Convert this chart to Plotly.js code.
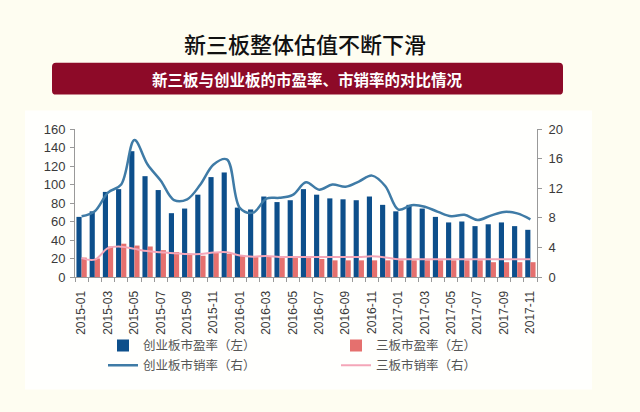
<!DOCTYPE html>
<html>
<head>
<meta charset="utf-8">
<script src="https://cdn.plot.ly/plotly-3.0.1.min.js"></script>
<style>
html,body{margin:0;padding:0;background:#fefdf1;}
#chart{width:640px;height:412px;}
</style>
</head>
<body>
<div id="chart"></div>
<script>
var months = ["2015-01","2015-02","2015-03","2015-04","2015-05","2015-06","2015-07","2015-08","2015-09","2015-10","2015-11","2015-12",
  "2016-01","2016-02","2016-03","2016-04","2016-05","2016-06","2016-07","2016-08","2016-09","2016-10","2016-11","2016-12",
  "2017-01","2017-02","2017-03","2017-04","2017-05","2017-06","2017-07","2017-08","2017-09","2017-10","2017-11"];
var tickLabels = ["2015-01","","2015-03","","2015-05","","2015-07","","2015-09","","2015-11","",
  "2016-01","","2016-03","","2016-05","","2016-07","","2016-09","","2016-11","",
  "2017-01","","2017-03","","2017-05","","2017-07","","2017-09","","2017-11"];
var cybPE = [65,71,92,95,136,109,94,69,74,89,108,113,75,73,87,81,83,95,89,85,84,83,87,78,71,78,74,65,59,60,55,57,59,55,51];
var sbPE = [21,20,33,36,34,33,29,27,25,23,26,25,23,21.5,22,20.5,20.5,20.5,19.5,18,18,18,18,18,18,18,18,18,18,18,18,16,16,16,16];
var cybPS = [8.2,8.9,11.4,12.5,18.5,15.2,13.0,10.4,10.5,12.5,15.2,15.9,9.3,8.7,10.6,10.7,11.1,12.8,11.8,12.5,12.2,12.9,13.7,12.3,9.1,9.7,9.5,8.8,8.2,8.4,7.7,8.3,8.8,8.6,7.8];
var sbPS = [2.55,2.35,3.9,4.1,3.8,3.5,3.35,3.2,3.1,3.1,3.3,3.35,2.9,2.75,2.85,2.7,2.7,2.7,2.7,2.7,2.7,2.7,2.8,2.65,2.4,2.4,2.4,2.4,2.4,2.4,2.4,2.4,2.4,2.4,2.4];

var names = ["创业板市盈率（左）","三板市盈率（左）","创业板市销率（右）","三板市销率（右）"];

// layout geometry (pixels)
var W = 640, H = 412, L = 75, R = 103, T = 128.5, B = 135;
var pw = W - L - R, ph = H - T - B;
function px(x){ return (x - L) / pw; }
function py(y){ return (H - B - y) / ph; }
function roundRect(x0, y0, x1, y1, r){
  var a = px(x0), b = px(x1), c = py(y0), d = py(y1);
  var rx = r / pw, ry = r / ph;
  return "M" + (a+rx) + "," + c + " L" + (b-rx) + "," + c + " Q" + b + "," + c + " " + b + "," + (c-ry) +
    " L" + b + "," + (d+ry) + " Q" + b + "," + d + " " + (b-rx) + "," + d +
    " L" + (a+rx) + "," + d + " Q" + a + "," + d + " " + a + "," + (d+ry) +
    " L" + a + "," + (c-ry) + " Q" + a + "," + c + " " + (a+rx) + "," + c + " Z";
}

var traces = [
  {type:"bar", x:months, y:cybPE, name:names[0], marker:{color:"#0d4f8b"}, legend:"legend"},
  {type:"bar", x:months, y:sbPE, name:names[1], marker:{color:"#e5706e"}, legend:"legend"},
  {type:"scatter", mode:"lines", x:months, y:cybPS, name:names[2], yaxis:"y2",
    line:{color:"#3f7ba6", width:2.5, shape:"spline", smoothing:1}, legend:"legend2"},
  {type:"scatter", mode:"lines", x:months, y:sbPS, name:names[3], yaxis:"y2",
    line:{color:"#f4a6b8", width:2, shape:"spline", smoothing:1}, legend:"legend2"}
];

var tickFont = {family:"Arial, 'Liberation Sans', sans-serif", size:12, color:"#3a3a3a"};
var yTickFont = {family:"Arial, 'Liberation Sans', sans-serif", size:13, color:"#3a3a3a"};
var legFont = {family:"'Noto Sans CJK SC', sans-serif", size:12.5, color:"#555555"};

var layout = {
  width:W, height:H,
  margin:{l:L, r:R, t:T, b:B, pad:0},
  paper_bgcolor:"#fefdf1",
  plot_bgcolor:"rgba(0,0,0,0)",
  barmode:"group", bargap:0.22, bargroupgap:0,
  title:{text:"新三板整体估值不断下滑", x:305/W, xanchor:"center", y:1-45/H, yanchor:"middle",
    font:{family:"'Noto Sans CJK SC', sans-serif", size:22, color:"#111111", weight:500}},
  xaxis:{type:"category", tickvals:months, ticktext:tickLabels, tickangle:-90, tickson:"boundaries",
    ticks:"outside", ticklen:4, tickcolor:"#999999", showline:true, linecolor:"#999999", linewidth:1,
    showgrid:false, zeroline:false, tickfont:tickFont, ticklabelstandoff:8, fixedrange:true},
  yaxis:{range:[0,160], dtick:20, tick0:0, ticks:"outside", ticklen:4, tickcolor:"#999999",
    showline:true, linecolor:"#999999", showgrid:false, zeroline:false, tickfont:yTickFont, ticklabelstandoff:2},
  yaxis2:{range:[0,20], dtick:4, tick0:0, overlaying:"y", side:"right", ticks:"outside", ticklen:4,
    tickcolor:"#999999", showline:true, linecolor:"#999999", showgrid:false, zeroline:false, tickfont:yTickFont, ticklabelstandoff:4},
  showlegend:true,
  legend:{orientation:"h", x:px(103), xanchor:"left", y:py(346), yanchor:"middle",
    entrywidth:188, entrywidthmode:"pixels", font:legFont, bgcolor:"rgba(0,0,0,0)", traceorder:"normal"},
  legend2:{orientation:"h", x:px(103), xanchor:"left", y:py(366), yanchor:"middle",
    entrywidth:188, entrywidthmode:"pixels", font:legFont, bgcolor:"rgba(0,0,0,0)", traceorder:"normal"},
  shapes:[
    {type:"rect", xref:"paper", yref:"paper", x0:px(25), x1:px(592), y0:py(110), y1:py(390),
      fillcolor:"#fffffd", line:{width:0}, layer:"below"},
    {type:"path", xref:"paper", yref:"paper", path:roundRect(52, 62, 563, 94, 4),
      fillcolor:"#8d0a28", line:{width:0}, layer:"below"}
  ],
  annotations:[
    {text:"<b>新三板与创业板的市盈率、市销率的对比情况</b>", xref:"paper", yref:"paper",
      x:px(307), y:py(78), xanchor:"center", yanchor:"middle", showarrow:false,
      font:{family:"'Noto Sans CJK SC', sans-serif", size:15.5, color:"#ffffff"}}
  ]
};

Plotly.newPlot("chart", traces, layout, {displayModeBar:false, staticPlot:true});
</script>
</body>
</html>
